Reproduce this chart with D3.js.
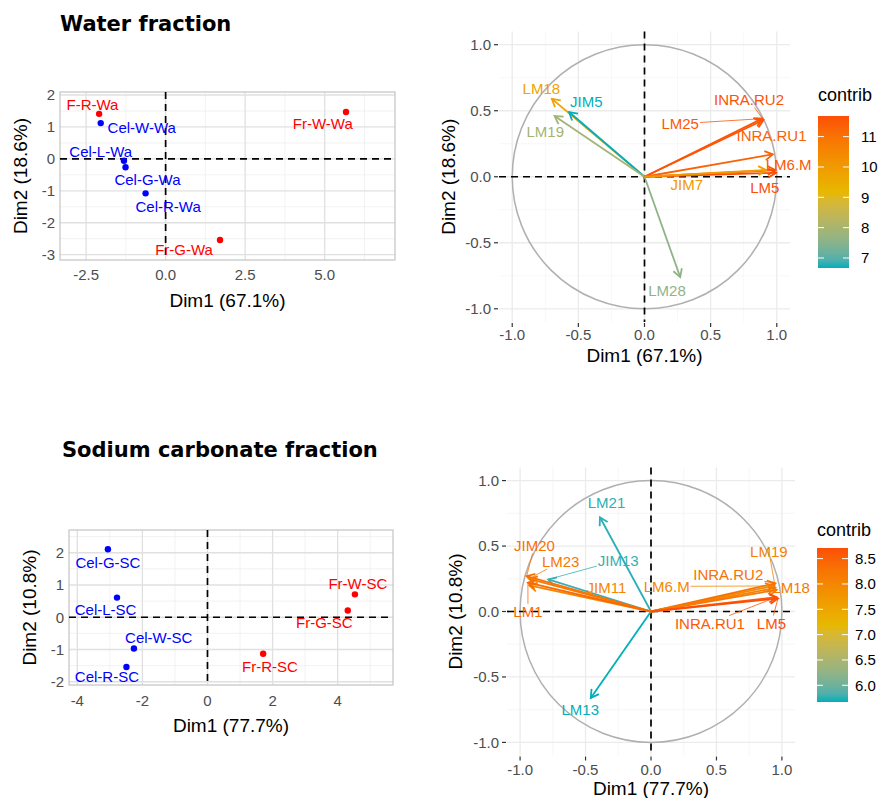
<!DOCTYPE html>
<html>
<head>
<meta charset="utf-8">
<script src="https://d3js.org/d3.v7.min.js"></script>
<style>
  body { margin: 0; background: #fff; }
  svg text { font-family: "Liberation Sans", Arial, sans-serif; }
</style>
</head>
<body>
<script>
// ---------- Water fraction : individuals
const waterInd      = ["F-R-Wa", "Cel-W-Wa", "Cel-L-Wa", "Cel-G-Wa", "Cel-R-Wa", "Fr-G-Wa", "Fr-W-Wa"];
const waterIndDim1  = [-2.09, -2.04, -1.31, -1.26, -0.63, 1.71, 5.67];
const waterIndDim2  = [1.41, 1.12, -0.06, -0.26, -1.08, -2.54, 1.47];
const waterIndGroup = ["Fr", "Cel", "Cel", "Cel", "Cel", "Fr", "Fr"];
const waterIndLabX  = [-2.30, -0.75, -2.04, -0.57, 0.08, 0.58, 4.94];
const waterIndLabY  = [1.69, 0.96, 0.23, -0.64, -1.50, -2.85, 1.10];

// ---------- Water fraction : variables
const waterVar        = ["LM18", "JIM5", "LM19", "LM25", "INRA.RU2", "INRA.RU1", "LM6.M", "LM5", "JIM7", "LM28"];
const waterVarDim1    = [-0.70, -0.57, -0.68, 0.89, 0.90, 0.97, 0.99, 0.995, 0.92, 0.27];
const waterVarDim2    = [0.59, 0.49, 0.46, 0.44, 0.43, 0.17, 0.05, 0.03, 0.05, -0.76];
const waterVarContrib = [9.8, 6.67, 7.9, 11.5, 11.6, 11.3, 11.5, 11.68, 10.0, 7.6];
const waterVarLabX    = [-0.78, -0.44, -0.75, 0.27, 0.79, 0.96, 1.09, 0.91, 0.32, 0.17];
const waterVarLabY    = [0.67, 0.57, 0.34, 0.40, 0.58, 0.31, 0.09, -0.08, -0.06, -0.86];
const waterVarSeg     = [false, false, false, true, true, false, false, false, false, false];
const waterBreaks     = [7, 8, 9, 10, 11];

// ---------- Sodium carbonate fraction : individuals
const scInd      = ["Cel-G-SC", "Cel-L-SC", "Cel-W-SC", "Cel-R-SC", "Fr-W-SC", "Fr-G-SC", "Fr-R-SC"];
const scIndDim1  = [-3.06, -2.78, -2.26, -2.49, 4.53, 4.31, 1.71];
const scIndDim2  = [2.11, 0.61, -0.97, -1.54, 0.71, 0.21, -1.13];
const scIndGroup = ["Cel", "Cel", "Cel", "Cel", "Fr", "Fr", "Fr"];
const scIndLabX  = [-3.06, -3.13, -1.50, -3.09, 4.62, 3.59, 1.92];
const scIndLabY  = [1.70, 0.22, -0.63, -1.85, 1.05, -0.16, -1.54];

// ---------- Sodium carbonate fraction : variables
const scVar        = ["LM21", "LM13", "JIM13", "JIM20", "LM23", "JIM11", "LM1", "LM6.M", "INRA.RU2", "LM19", "LM18", "INRA.RU1", "LM5"];
const scVarDim1    = [-0.39, -0.46, -0.785, -0.95, -0.93, -0.93, -0.94, 0.935, 0.95, 0.95, 0.96, 0.96, 0.97];
const scVarDim2    = [0.72, -0.66, 0.245, 0.27, 0.25, 0.20, 0.22, 0.195, 0.215, 0.18, 0.165, 0.11, 0.10];
const scVarContrib = [5.72, 5.67, 5.75, 8.3, 8.2, 8.0, 8.4, 8.0, 8.3, 8.1, 8.2, 8.6, 8.71];
const scVarLabX    = [-0.34, -0.54, -0.25, -0.89, -0.69, -0.34, -0.94, 0.12, 0.59, 0.90, 1.07, 0.45, 0.92];
const scVarLabY    = [0.83, -0.75, 0.39, 0.50, 0.38, 0.18, 0.0, 0.19, 0.28, 0.46, 0.18, -0.09, -0.09];
const scVarSeg     = [false, false, true, true, true, false, true, true, true, true, false, true, true];
const scBreaks     = [6.0, 6.5, 7.0, 7.5, 8.0, 8.5];

const groupColor = { Fr: "#FF0000", Cel: "#0000FF" };
const gradCols = ["#00AFBB", "#E7B800", "#FC4E07"];

const f1 = d => d3.format(".1f")(d).replace("−", "-");
const f0 = d => String(d);

const svg = d3.select("body").append("svg").attr("width", 882).attr("height", 798);

svg.append("text").attr("x", 60).attr("y", 31).text("Water fraction")
  .style("font-family", "DejaVu Sans").style("font-weight", "bold").style("font-size", "21px");
svg.append("text").attr("x", 62).attr("y", 457).text("Sodium carbonate fraction")
  .style("font-family", "DejaVu Sans").style("font-weight", "bold").style("font-size", "21px");

function grid(g, x, y, o, colMajor, colMinor) {
  g.selectAll(null).data(o.xMinor).enter().append("line")
    .attr("x1", d => x(d)).attr("x2", d => x(d)).attr("y1", o.top).attr("y2", o.bottom)
    .attr("stroke", colMinor).attr("stroke-width", 0.7);
  g.selectAll(null).data(o.yMinor).enter().append("line")
    .attr("y1", d => y(d)).attr("y2", d => y(d)).attr("x1", o.left).attr("x2", o.right)
    .attr("stroke", colMinor).attr("stroke-width", 0.7);
  g.selectAll(null).data(o.xTicks).enter().append("line")
    .attr("x1", d => x(d)).attr("x2", d => x(d)).attr("y1", o.top).attr("y2", o.bottom)
    .attr("stroke", colMajor).attr("stroke-width", 1.3);
  g.selectAll(null).data(o.yTicks).enter().append("line")
    .attr("y1", d => y(d)).attr("y2", d => y(d)).attr("x1", o.left).attr("x2", o.right)
    .attr("stroke", colMajor).attr("stroke-width", 1.3);
}

function axesText(g, x, y, o) {
  g.selectAll(null).data(o.xTicks).enter().append("text")
    .attr("x", d => x(d)).attr("y", o.bottom + o.xLabOff).attr("dy", "0.35em")
    .attr("text-anchor", "middle").attr("fill", "#4D4D4D").style("font-size", "15px")
    .text(o.xFmt);
  g.selectAll(null).data(o.yTicks).enter().append("text")
    .attr("x", o.left - o.yLabOff).attr("y", d => y(d)).attr("dy", "0.35em")
    .attr("text-anchor", "end").attr("fill", "#4D4D4D").style("font-size", "15px")
    .text(o.yFmt);
  g.append("text").attr("x", (o.left + o.right) / 2).attr("y", o.bottom + o.xTitleOff).attr("dy", "0.35em")
    .attr("text-anchor", "middle").style("font-size", "19px").text(o.xTitle);
  g.append("text").attr("transform", `translate(${o.left - o.yTitleOff},${(o.top + o.bottom) / 2}) rotate(-90)`)
    .attr("dy", "0.35em").attr("text-anchor", "middle").style("font-size", "19px").text(o.yTitle);
}

function dashed(g, x, y, o) {
  g.append("line").attr("x1", o.left).attr("x2", o.right).attr("y1", y(0)).attr("y2", y(0))
    .attr("stroke", "#000").attr("stroke-width", 1.7).attr("stroke-dasharray", "7,5");
  g.append("line").attr("y1", o.top).attr("y2", o.bottom).attr("x1", x(0)).attr("x2", x(0))
    .attr("stroke", "#000").attr("stroke-width", 1.7).attr("stroke-dasharray", "7,5");
}

function drawInd(o) {
  const x = d3.scaleLinear().domain(o.xDom).range([o.left, o.right]);
  const y = d3.scaleLinear().domain(o.yDom).range([o.bottom, o.top]);
  const g = svg.append("g");
  grid(g, x, y, o, "#E0E0E0", "#EDEDED");
  g.append("rect").attr("x", o.left).attr("y", o.top).attr("width", o.right - o.left).attr("height", o.bottom - o.top)
    .attr("fill", "none").attr("stroke", "#C4C4C4").attr("stroke-width", 1.2);
  dashed(g, x, y, o);
  axesText(g, x, y, o);
  const idx = d3.range(o.names.length);
  g.selectAll(null).data(idx).enter().append("circle")
    .attr("cx", i => x(o.d1[i])).attr("cy", i => y(o.d2[i])).attr("r", 3.2)
    .attr("fill", i => groupColor[o.grp[i]]);
  g.selectAll(null).data(idx).enter().append("text")
    .attr("x", i => x(o.lx[i])).attr("y", i => y(o.ly[i])).attr("dy", "0.35em")
    .attr("text-anchor", "middle").style("font-size", "15px")
    .attr("fill", i => groupColor[o.grp[i]]).text(i => o.names[i]);
}

function drawVar(o) {
  const x = d3.scaleLinear().domain([-1.1, 1.1]).range([o.left, o.right]);
  const y = d3.scaleLinear().domain([-1.1, 1.1]).range([o.bottom, o.top]);
  const color = d3.scaleLinear()
    .domain([d3.min(o.contrib), (d3.min(o.contrib) + d3.max(o.contrib)) / 2, d3.max(o.contrib)])
    .range(gradCols).interpolate(d3.interpolateLab);
  const g = svg.append("g");
  grid(g, x, y, o, "#EBEBEB", "#F4F4F4");
  // ticks
  g.selectAll(null).data(o.xTicks).enter().append("line")
    .attr("x1", d => x(d)).attr("x2", d => x(d)).attr("y1", o.bottom + 1).attr("y2", o.bottom + 5)
    .attr("stroke", "#333").attr("stroke-width", 1.2);
  g.selectAll(null).data(o.yTicks).enter().append("line")
    .attr("y1", d => y(d)).attr("y2", d => y(d)).attr("x1", o.left - 5).attr("x2", o.left - 1)
    .attr("stroke", "#333").attr("stroke-width", 1.2);
  axesText(g, x, y, o);
  g.append("ellipse").attr("cx", x(0)).attr("cy", y(0)).attr("rx", x(1) - x(0)).attr("ry", y(0) - y(1))
    .attr("fill", "none").attr("stroke", "#B0B0B0").attr("stroke-width", 1.5);
  dashed(g, x, y, o);
  const idx = d3.range(o.names.length);
  idx.forEach(i => {
    const c = color(o.contrib[i]);
    const tx = x(o.d1[i]), ty = y(o.d2[i]);
    const a = Math.atan2(ty - y(0), tx - x(0));
    const L = 9, sp = Math.PI / 6;
    g.append("line").attr("x1", x(0)).attr("y1", y(0)).attr("x2", tx).attr("y2", ty)
      .attr("stroke", c).attr("stroke-width", 1.8);
    g.append("path")
      .attr("d", `M${tx - L * Math.cos(a - sp)},${ty - L * Math.sin(a - sp)}L${tx},${ty}L${tx - L * Math.cos(a + sp)},${ty - L * Math.sin(a + sp)}`)
      .attr("fill", "none").attr("stroke", c).attr("stroke-width", 1.8);
  });
  idx.forEach(i => {
    const c = color(o.contrib[i]);
    const t = g.append("text").attr("x", x(o.lx[i])).attr("y", y(o.ly[i])).attr("dy", "0.35em")
      .attr("text-anchor", "middle").style("font-size", "15px").attr("fill", c).text(o.names[i]);
    if (o.seg[i]) {
      const b = t.node().getBBox();
      const cx = b.x + b.width / 2, cy = b.y + b.height / 2;
      const tx = x(o.d1[i]), ty = y(o.d2[i]);
      const dx = tx - cx, dy = ty - cy;
      const hw = b.width / 2 + 1, hh = b.height / 2 - 1;
      const s = Math.min(dx !== 0 ? hw / Math.abs(dx) : Infinity, dy !== 0 ? hh / Math.abs(dy) : Infinity);
      if (s < 1) {
        g.append("line").attr("x1", cx + dx * s).attr("y1", cy + dy * s).attr("x2", tx).attr("y2", ty)
          .attr("stroke", c).attr("stroke-width", 0.8);
      }
    }
  });
  // legend
  const lg = svg.append("g");
  const ly = d3.scaleLinear().domain([d3.min(o.contrib), d3.max(o.contrib)]).range([o.leg.bottom, o.leg.top]);
  const gid = "grad" + o.leg.id;
  const grad = svg.append("defs").append("linearGradient").attr("id", gid)
    .attr("x1", 0).attr("x2", 0).attr("y1", 1).attr("y2", 0);
  d3.range(0, 1.0001, 0.05).forEach(p => {
    grad.append("stop").attr("offset", p).attr("stop-color", color(ly.domain()[0] + p * (ly.domain()[1] - ly.domain()[0])));
  });
  lg.append("text").attr("x", o.leg.x).attr("y", o.leg.titleY).style("font-size", "18px").text("contrib");
  lg.append("rect").attr("x", o.leg.x).attr("y", o.leg.top).attr("width", o.leg.w).attr("height", o.leg.bottom - o.leg.top)
    .attr("fill", `url(#${gid})`);
  o.leg.breaks.forEach(b => {
    lg.append("line").attr("x1", o.leg.x).attr("x2", o.leg.x + 6).attr("y1", ly(b)).attr("y2", ly(b))
      .attr("stroke", "#fff").attr("stroke-width", 1);
    lg.append("line").attr("x1", o.leg.x + o.leg.w - 6).attr("x2", o.leg.x + o.leg.w).attr("y1", ly(b)).attr("y2", ly(b))
      .attr("stroke", "#fff").attr("stroke-width", 1);
    lg.append("text").attr("x", o.leg.x + o.leg.w + o.leg.gap).attr("y", ly(b)).attr("dy", "0.35em")
      .style("font-size", "15px").text(o.leg.fmt(b));
  });
}

drawInd({
  left: 60, right: 395, top: 92, bottom: 260,
  xDom: [-3.32, 7.21], yDom: [-3.166, 2.094],
  xTicks: [-2.5, 0, 2.5, 5], xMinor: [-1.25, 1.25, 3.75, 6.25],
  yTicks: [-3, -2, -1, 0, 1, 2], yMinor: [-2.5, -1.5, -0.5, 0.5, 1.5],
  xFmt: f1, yFmt: f0,
  xLabOff: 15, yLabOff: 5, xTitleOff: 40, yTitleOff: 40,
  xTitle: "Dim1 (67.1%)", yTitle: "Dim2 (18.6%)",
  names: waterInd, d1: waterIndDim1, d2: waterIndDim2, grp: waterIndGroup, lx: waterIndLabX, ly: waterIndLabY
});

drawInd({
  left: 69, right: 393, top: 530, bottom: 685,
  xDom: [-4.255, 5.70], yDom: [-2.10, 2.705],
  xTicks: [-4, -2, 0, 2, 4], xMinor: [-3, -1, 1, 3, 5],
  yTicks: [-2, -1, 0, 1, 2], yMinor: [-1.5, -0.5, 0.5, 1.5, 2.5],
  xFmt: f0, yFmt: f0,
  xLabOff: 16, yLabOff: 5, xTitleOff: 40, yTitleOff: 40,
  xTitle: "Dim1 (77.7%)", yTitle: "Dim2 (10.8%)",
  names: scInd, d1: scIndDim1, d2: scIndDim2, grp: scIndGroup, lx: scIndLabX, ly: scIndLabY
});

drawVar({
  left: 499, right: 790, top: 31.5, bottom: 322,
  xTicks: [-1, -0.5, 0, 0.5, 1], xMinor: [-0.75, -0.25, 0.25, 0.75],
  yTicks: [-1, -0.5, 0, 0.5, 1], yMinor: [-0.75, -0.25, 0.25, 0.75],
  xFmt: f1, yFmt: f1,
  xLabOff: 13, yLabOff: 8, xTitleOff: 33, yTitleOff: 51,
  xTitle: "Dim1 (67.1%)", yTitle: "Dim2 (18.6%)",
  names: waterVar, d1: waterVarDim1, d2: waterVarDim2, contrib: waterVarContrib,
  lx: waterVarLabX, ly: waterVarLabY, seg: waterVarSeg,
  leg: { id: 1, x: 818, w: 31, gap: 12, top: 116, bottom: 268, titleY: 101, breaks: waterBreaks, fmt: f0 }
});

drawVar({
  left: 507, right: 795, top: 467.5, bottom: 755.5,
  xTicks: [-1, -0.5, 0, 0.5, 1], xMinor: [-0.75, -0.25, 0.25, 0.75],
  yTicks: [-1, -0.5, 0, 0.5, 1], yMinor: [-0.75, -0.25, 0.25, 0.75],
  xFmt: f1, yFmt: f1,
  xLabOff: 14, yLabOff: 8, xTitleOff: 33, yTitleOff: 52,
  xTitle: "Dim1 (77.7%)", yTitle: "Dim2 (10.8%)",
  names: scVar, d1: scVarDim1, d2: scVarDim2, contrib: scVarContrib,
  lx: scVarLabX, ly: scVarLabY, seg: scVarSeg,
  leg: { id: 2, x: 817, w: 31, gap: 7, top: 548, bottom: 702, titleY: 536, breaks: scBreaks, fmt: f1 }
});
</script>
</body>
</html>
